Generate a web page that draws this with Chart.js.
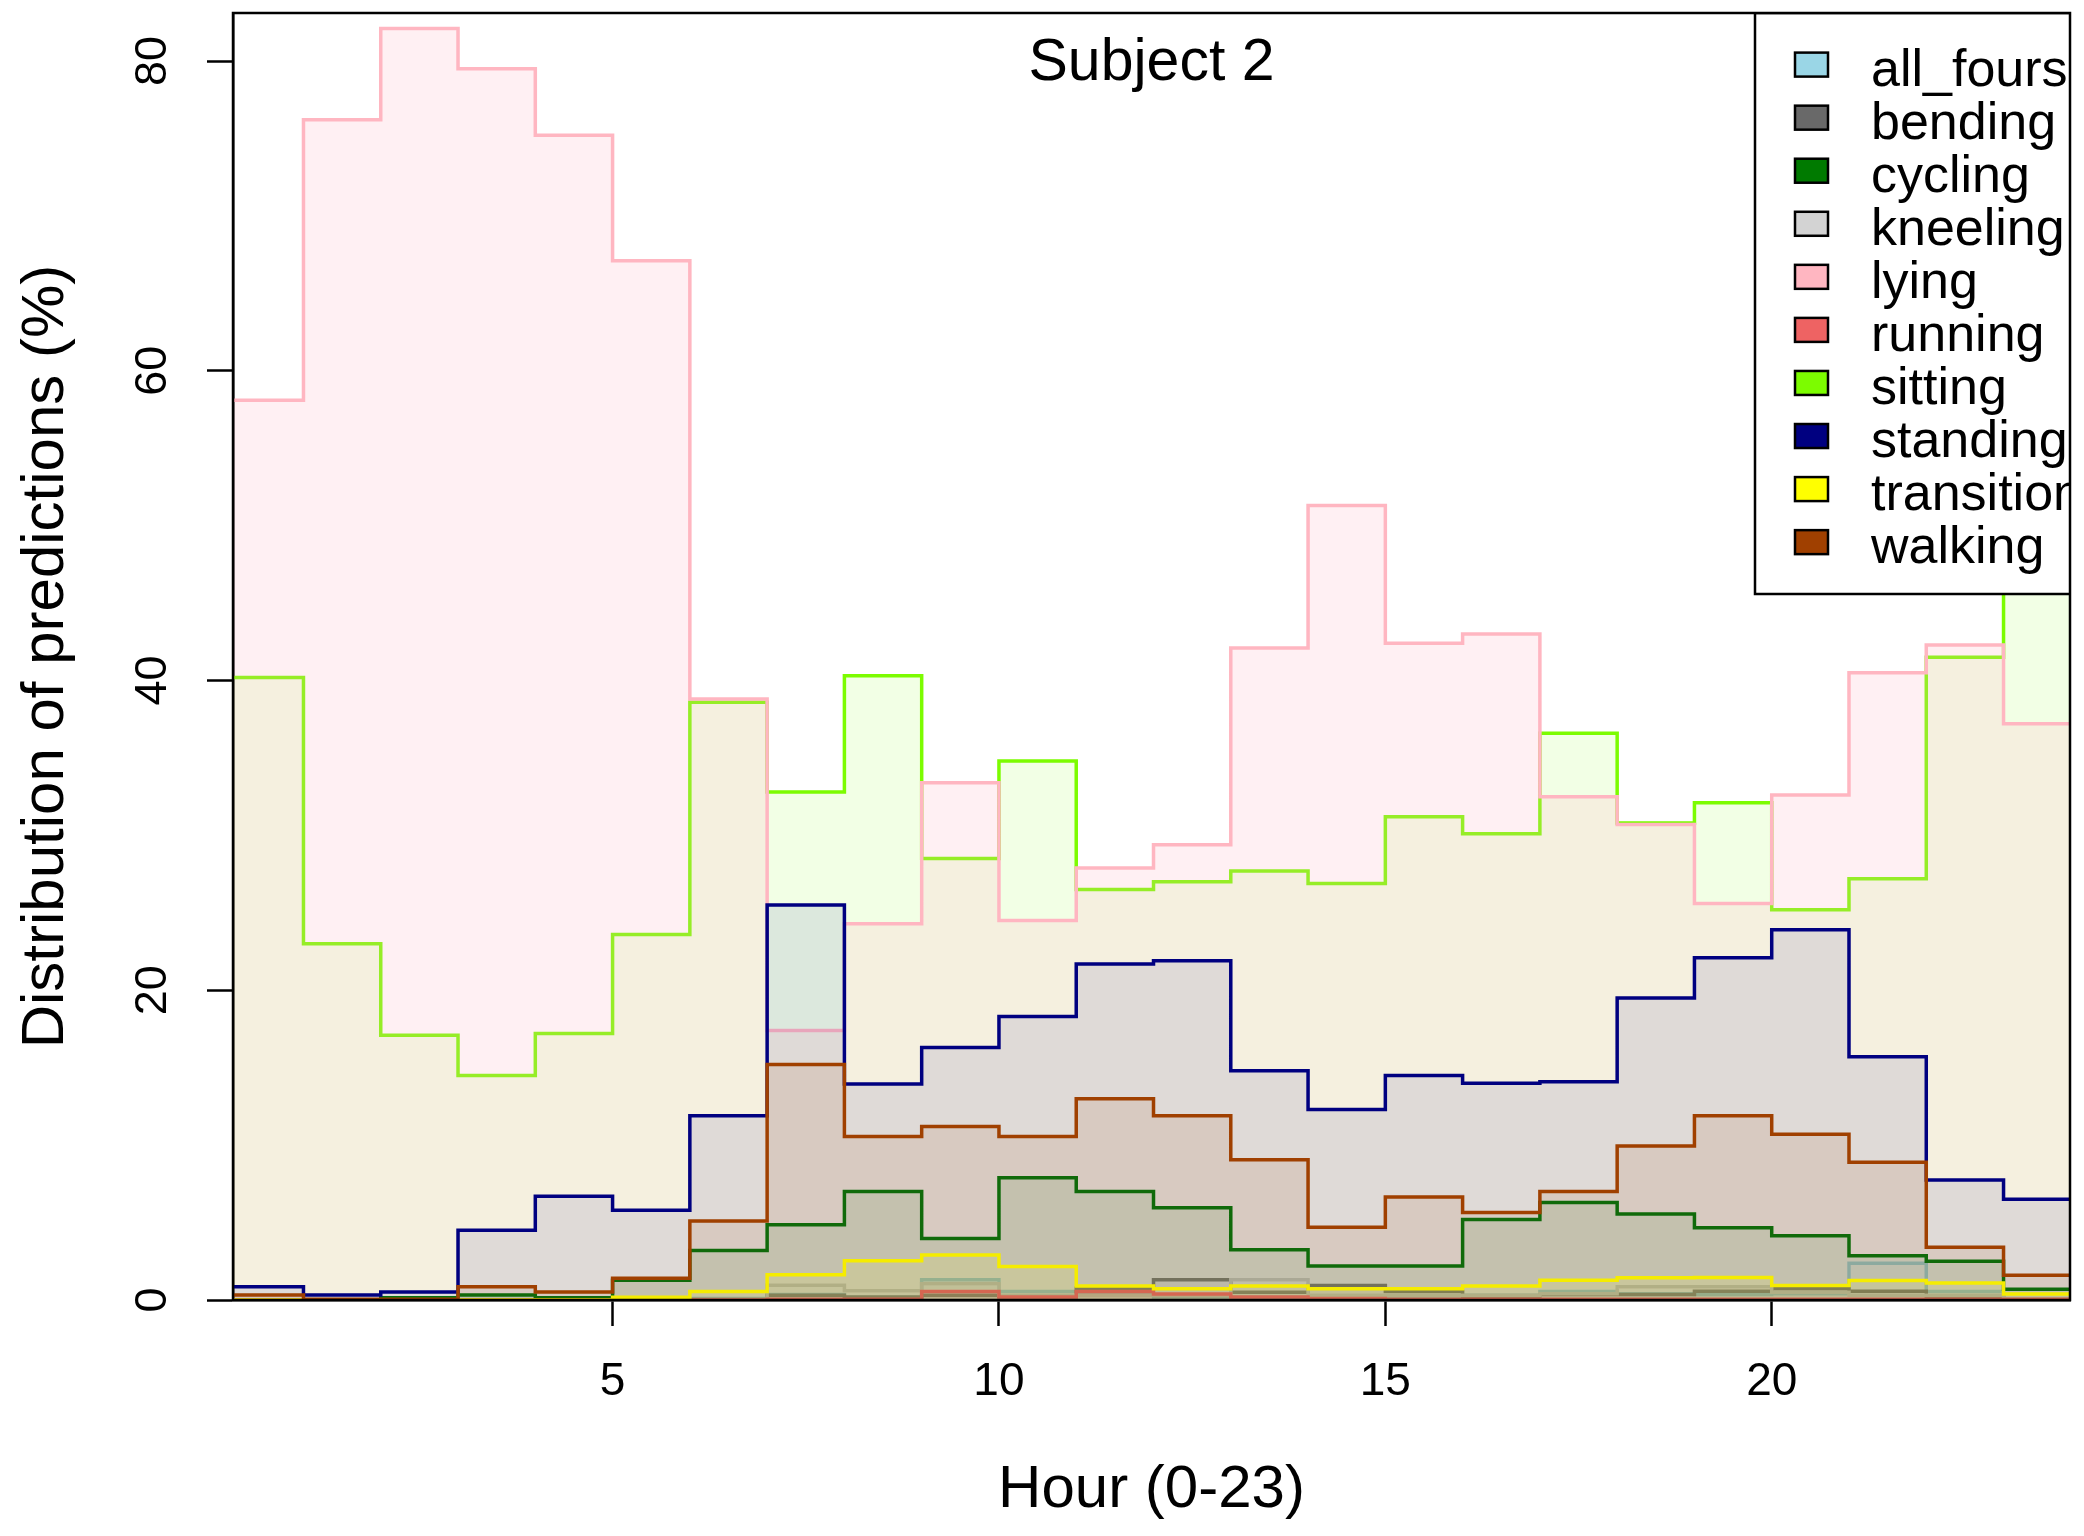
<!DOCTYPE html>
<html><head><meta charset="utf-8">
<script src="https://cdn.jsdelivr.net/npm/chart.js@4.4.1/dist/chart.umd.min.js"></script>
<style>html,body{margin:0;padding:0;background:#fff;}#wrap{width:2084px;height:1536px;}</style>
</head><body><div id="wrap"><canvas id="c" width="2084" height="1536"></canvas></div>
<script>
// ---- data ----
const hours = [0,1,2,3,4,5,6,7,8,9,10,11,12,13,14,15,16,17,18,19,20,21,22,23];
const categories = ['all_fours','bending','cycling','kneeling','lying','running','sitting','standing','transition','walking'];
const all_fours  = [0,0,0,0,0,0.05,0.1,0.36,0.18,1.3,0.55,0.38,0.18,0.18,0.18,0.2,0.3,0.55,0.4,0.36,0.4,2.38,0.55,0.05];
const bending    = [0,0,0,0,0,0,0.05,0.3,0.2,0.3,0.2,0.76,1.3,0.5,0.94,0.55,0.2,0.36,0.36,0.57,0.72,0.57,0.2,0.05];
const cycling    = [0.02,0.02,0.15,0.32,0.15,1.27,3.2,4.86,7.0,3.97,7.9,7.0,5.96,3.25,2.2,2.2,5.2,6.3,5.55,4.66,4.15,2.85,2.5,0.7];
const kneeling   = [0,0,0,0,0,0,0.05,0.95,0.6,1.05,0.3,0.3,0.3,1.3,0.3,0.3,0.3,0.4,0.85,0.85,0.5,0.3,0.3,0.1];
const lying      = [58.1,76.2,82.1,79.5,75.2,67.1,38.8,17.4,24.3,33.4,24.5,27.9,29.4,42.1,51.3,42.4,43.0,32.5,30.7,25.6,32.6,40.5,42.3,37.2];
const running    = [0.02,0,0,0,0,0,0,0.05,0.05,0.55,0.2,0.55,0.38,0.2,0.1,0.05,0.05,0.05,0.05,0.05,0.05,0.05,0.05,0.05];
const sitting    = [40.2,23.0,17.1,14.5,17.2,23.6,38.6,32.8,40.3,28.5,34.8,26.5,27.0,27.7,26.9,31.2,30.1,36.6,30.8,32.1,25.2,27.2,41.5,47.0];
const standing   = [0.85,0.32,0.52,4.5,6.7,5.8,11.9,25.5,13.95,16.3,18.3,21.7,21.9,14.8,12.3,14.5,14.0,14.1,19.5,22.1,23.9,15.7,7.75,6.5];
const transition = [0,0,0,0,0,0.18,0.55,1.63,2.53,2.9,2.16,0.9,0.72,0.9,0.72,0.72,0.9,1.28,1.43,1.45,0.94,1.26,1.1,0.38];
const walking    = [0.32,0.05,0.05,0.86,0.52,1.4,5.1,15.2,10.55,11.2,10.55,13.0,11.9,9.05,4.7,6.65,5.65,7.0,9.95,11.9,10.7,8.9,3.4,1.6];
const xTickValues = [5,10,15,20];
const yTickValues = [0,20,40,60,80];
const titleText = 'Subject 2';
const xTitle = 'Hour (0-23)';
const yTitle = 'Distribution of predictions (%)';

// ---- styles ----
const seriesValues = [all_fours,bending,cycling,kneeling,lying,running,sitting,standing,transition,walking];
const colors = ['#9AD6E6','#696969','#007A00','#D3D3D3','#FFB6C1','#EE6363','#7CFC00','#000080','#FFFF00','#A04000'];
const rgb = [[154,214,230],[105,105,105],[0,122,0],[211,211,211],[255,182,193],[238,99,99],[124,252,0],[0,0,128],[255,255,0],[160,64,0]];
const fillAlpha = [0.1,0.1,0.1,0.1,0.2,0.1,0.1,0.09,0.1,0.1];
// bottom -> top drawing rank
const drawRank = {all_fours:0,bending:1,kneeling:2,sitting:3,lying:4,cycling:5,running:6,standing:7,transition:8,walking:9};
const FONT = '"Liberation Sans", Arial, sans-serif';

function stepPoints(vals){
  const pts = hours.map((h,i)=>({x:h, y:vals[i]}));
  pts.push({x:hours[hours.length-1]+1, y:vals[vals.length-1]});
  return pts;
}

const datasets = categories.map((name,i)=>({
  label: name,
  data: stepPoints(seriesValues[i]),
  borderColor: colors[i],
  backgroundColor: `rgba(${rgb[i][0]},${rgb[i][1]},${rgb[i][2]},${fillAlpha[i]})`,
  borderWidth: 3.5,
  fill: 'origin',
  stepped: 'before',
  pointRadius: 0,
  tension: 0,
  order: 9 - drawRank[name],
  clip: 0
}));

const overlay = {
  id: 'overlay',
  afterDatasetsDraw(chart){
    const {ctx, chartArea: ca} = chart;
    ctx.save();
    ctx.beginPath(); ctx.rect(ca.left, ca.top, ca.right-ca.left, ca.bottom-ca.top); ctx.clip();
    // title
    ctx.fillStyle = '#000';
    ctx.font = '59px ' + FONT;
    ctx.textAlign = 'center'; ctx.textBaseline = 'alphabetic';
    ctx.fillText(titleText, (ca.left+ca.right)/2, ca.top + 67);
    // legend
    const bx = ca.right - 315, by = ca.top, bh = 581;
    ctx.fillStyle = '#fff';
    ctx.fillRect(bx, by, ca.right + 20 - bx, bh);
    ctx.lineWidth = 2.5; ctx.strokeStyle = '#000';
    ctx.strokeRect(bx, by, ca.right + 20 - bx, bh);
    ctx.font = '52px ' + FONT;
    ctx.textAlign = 'left';
    categories.forEach((name,i)=>{
      const cy = ca.top + 51.6 + 53.06*i;
      ctx.fillStyle = colors[i];
      ctx.fillRect(bx+40, cy-12, 33, 24);
      ctx.lineWidth = 2.5; ctx.strokeStyle = '#000';
      ctx.strokeRect(bx+40, cy-12, 33, 24);
      ctx.fillStyle = '#000';
      ctx.fillText(name, bx+116, cy+21);
    });
    ctx.restore();
    // plot box
    ctx.save();
    ctx.lineWidth = 2.5; ctx.strokeStyle = '#000';
    ctx.strokeRect(ca.left, ca.top, ca.right-ca.left, ca.bottom-ca.top);
    ctx.restore();
  }
};

new Chart(document.getElementById('c'), {
  type: 'line',
  data: { datasets },
  options: {
    responsive: false,
    devicePixelRatio: 1,
    animation: false,
    layout: { padding: { left: 0, top: 13, right: 14, bottom: 0 } },
    plugins: { legend: { display: false }, tooltip: { enabled: false }, title: { display: false } },
    scales: {
      x: {
        type: 'linear', min: 0.088, max: 23.86,
        afterBuildTicks: s => { s.ticks = xTickValues.map(v=>({value:v})); },
        afterFit: s => { s.height = 236; s.paddingLeft = 0; s.paddingRight = 0; },
        ticks: { font: { size: 46, family: FONT }, color: '#000', padding: 29, maxRotation: 0, minRotation: 0, autoSkip: false },
        grid: { drawOnChartArea: false, drawTicks: true, tickLength: 26, tickWidth: 2.5, tickColor: '#000' },
        border: { display: true, color: '#000', width: 2.5 },
        title: { display: true, text: xTitle, color: '#000', font: { size: 60, family: FONT }, padding: { top: 0, bottom: 10 } }
      },
      y: {
        type: 'linear', min: 0, max: 83.1,
        afterBuildTicks: s => { s.ticks = yTickValues.map(v=>({value:v})); },
        afterFit: s => { s.width = 233; s.paddingTop = 0; s.paddingBottom = 0; },
        ticks: { font: { size: 45, family: FONT }, color: '#000', padding: 28, minRotation: 90, maxRotation: 90, crossAlign: 'center', autoSkip: false },
        grid: { drawOnChartArea: false, drawTicks: true, tickLength: 26, tickWidth: 2.5, tickColor: '#000' },
        border: { display: true, color: '#000', width: 2.5 },
        title: { display: true, text: yTitle, color: '#000', font: { size: 60, family: FONT }, padding: { top: 10, bottom: 0 } }
      }
    }
  },
  plugins: [overlay]
});
</script>
</body></html>
